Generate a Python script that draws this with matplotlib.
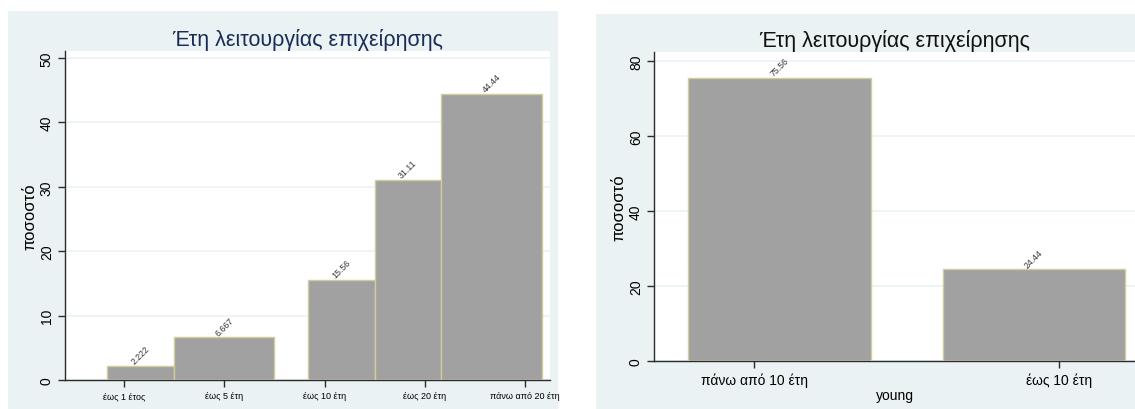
#!/usr/bin/env python3
"""Two Stata-style histograms of years in operation (share of firms)."""

import matplotlib

matplotlib.use("Agg")
import matplotlib.pyplot as plt
from matplotlib.patches import Rectangle

TITLE = "Έτη λειτουργίας επιχείρησης"
YLABEL = "ποσοστό"

# left panel: five age classes
age_labels = ["έως 1 έτος", "έως 5 έτη", "έως 10 έτη", "έως 20 έτη", "πάνω από 20 έτη"]
age_ticks = [1, 2, 3, 4, 5]
age_left = [0.833, 1.5, 2.833, 3.5, 4.167]
age_right = [1.5, 2.5, 3.5, 4.167, 5.167]
age_pct = [2.222, 6.667, 15.56, 31.11, 44.44]
age_text = ["2.222", "6.667", "15.56", "31.11", "44.44"]

# right panel: young firms dummy
young_labels = ["πάνω από 10 έτη", "έως 10 έτη"]
young_ticks = [0, 1]
young_left = [-0.216, 0.62]
young_right = [0.384, 1.216]
young_pct = [75.56, 24.44]
young_text = ["75.56", "24.44"]

W, H = 1135, 410
BG = "#eaf2f3"
BAR = "#a1a1a1"
EDGE = "#d2cc9c"

plt.rcParams["font.family"] = ["Liberation Sans", "DejaVu Sans"]

fig = plt.figure(figsize=(W / 100, H / 100), dpi=100)
fig.patch.set_facecolor("white")


def px_rect(x0, y0, x1, y1):
    # pixel box (top-left origin) -> figure fraction
    return [x0 / W, (H - y1) / H, (x1 - x0) / W, (y1 - y0) / H]


for x0, y0, x1, y1 in [(8, 12, 558, 410), (596, 15, 1135, 410)]:
    r = px_rect(x0, y0, x1, y1)
    fig.patches.append(Rectangle((r[0], r[1]), r[2], r[3], transform=fig.transFigure,
                                 facecolor=BG, edgecolor="none", zorder=-5))


def draw_panel(ax, lefts, rights, vals, texts, ticks, labels, ylim, yticks,
               tick_size, title_color, xlabel=None):
    widths = [r - l for l, r in zip(lefts, rights)]
    ax.bar(lefts, vals, width=widths, align="edge", color=BAR, edgecolor=EDGE,
           linewidth=1.0, zorder=3)
    for l, r, v, t in zip(lefts, rights, vals, texts):
        ax.text((l + r) / 2, v, t, rotation=45, ha="center", va="bottom",
                fontsize=6.3, color="#333333", zorder=4)
    ax.set_ylim(*ylim)
    ax.set_yticks(yticks)
    ax.set_yticklabels([str(v) for v in yticks], rotation=90, va="center", fontsize=10)
    ax.set_xticks(ticks)
    ax.set_xticklabels(labels, fontsize=tick_size)
    ax.grid(axis="y", color=BG, linewidth=1.2, zorder=0)
    ax.set_axisbelow(True)
    for side in ("top", "right"):
        ax.spines[side].set_visible(False)
    for side in ("left", "bottom"):
        ax.spines[side].set_color("#2b2b2b")
        ax.spines[side].set_linewidth(1.0)
    ax.tick_params(length=5, width=1, color="#2b2b2b", pad=3)
    ax.set_ylabel(YLABEL, fontsize=12, labelpad=2)
    ax.set_title(TITLE, fontsize=15.5, color=title_color, pad=4)
    if xlabel:
        ax.set_xlabel(xlabel, fontsize=10, labelpad=1)


ax1 = fig.add_axes(px_rect(65, 52, 550, 381))
ax1.set_xlim(0.41, 5.25)
draw_panel(ax1, age_left, age_right, age_pct, age_text, age_ticks, age_labels,
           (0, 51.1), [0, 10, 20, 30, 40, 50], 6.5, "#1a2b57")

ax2 = fig.add_axes(px_rect(654, 53, 1135, 362))
ax2.set_xlim(-0.328, 1.249)
draw_panel(ax2, young_left, young_right, young_pct, young_text, young_ticks,
           young_labels, (0, 82.4), [0, 20, 40, 60, 80], 10, "#111111", xlabel="young")

fig.savefig("out.png", dpi=100, facecolor=fig.get_facecolor())
